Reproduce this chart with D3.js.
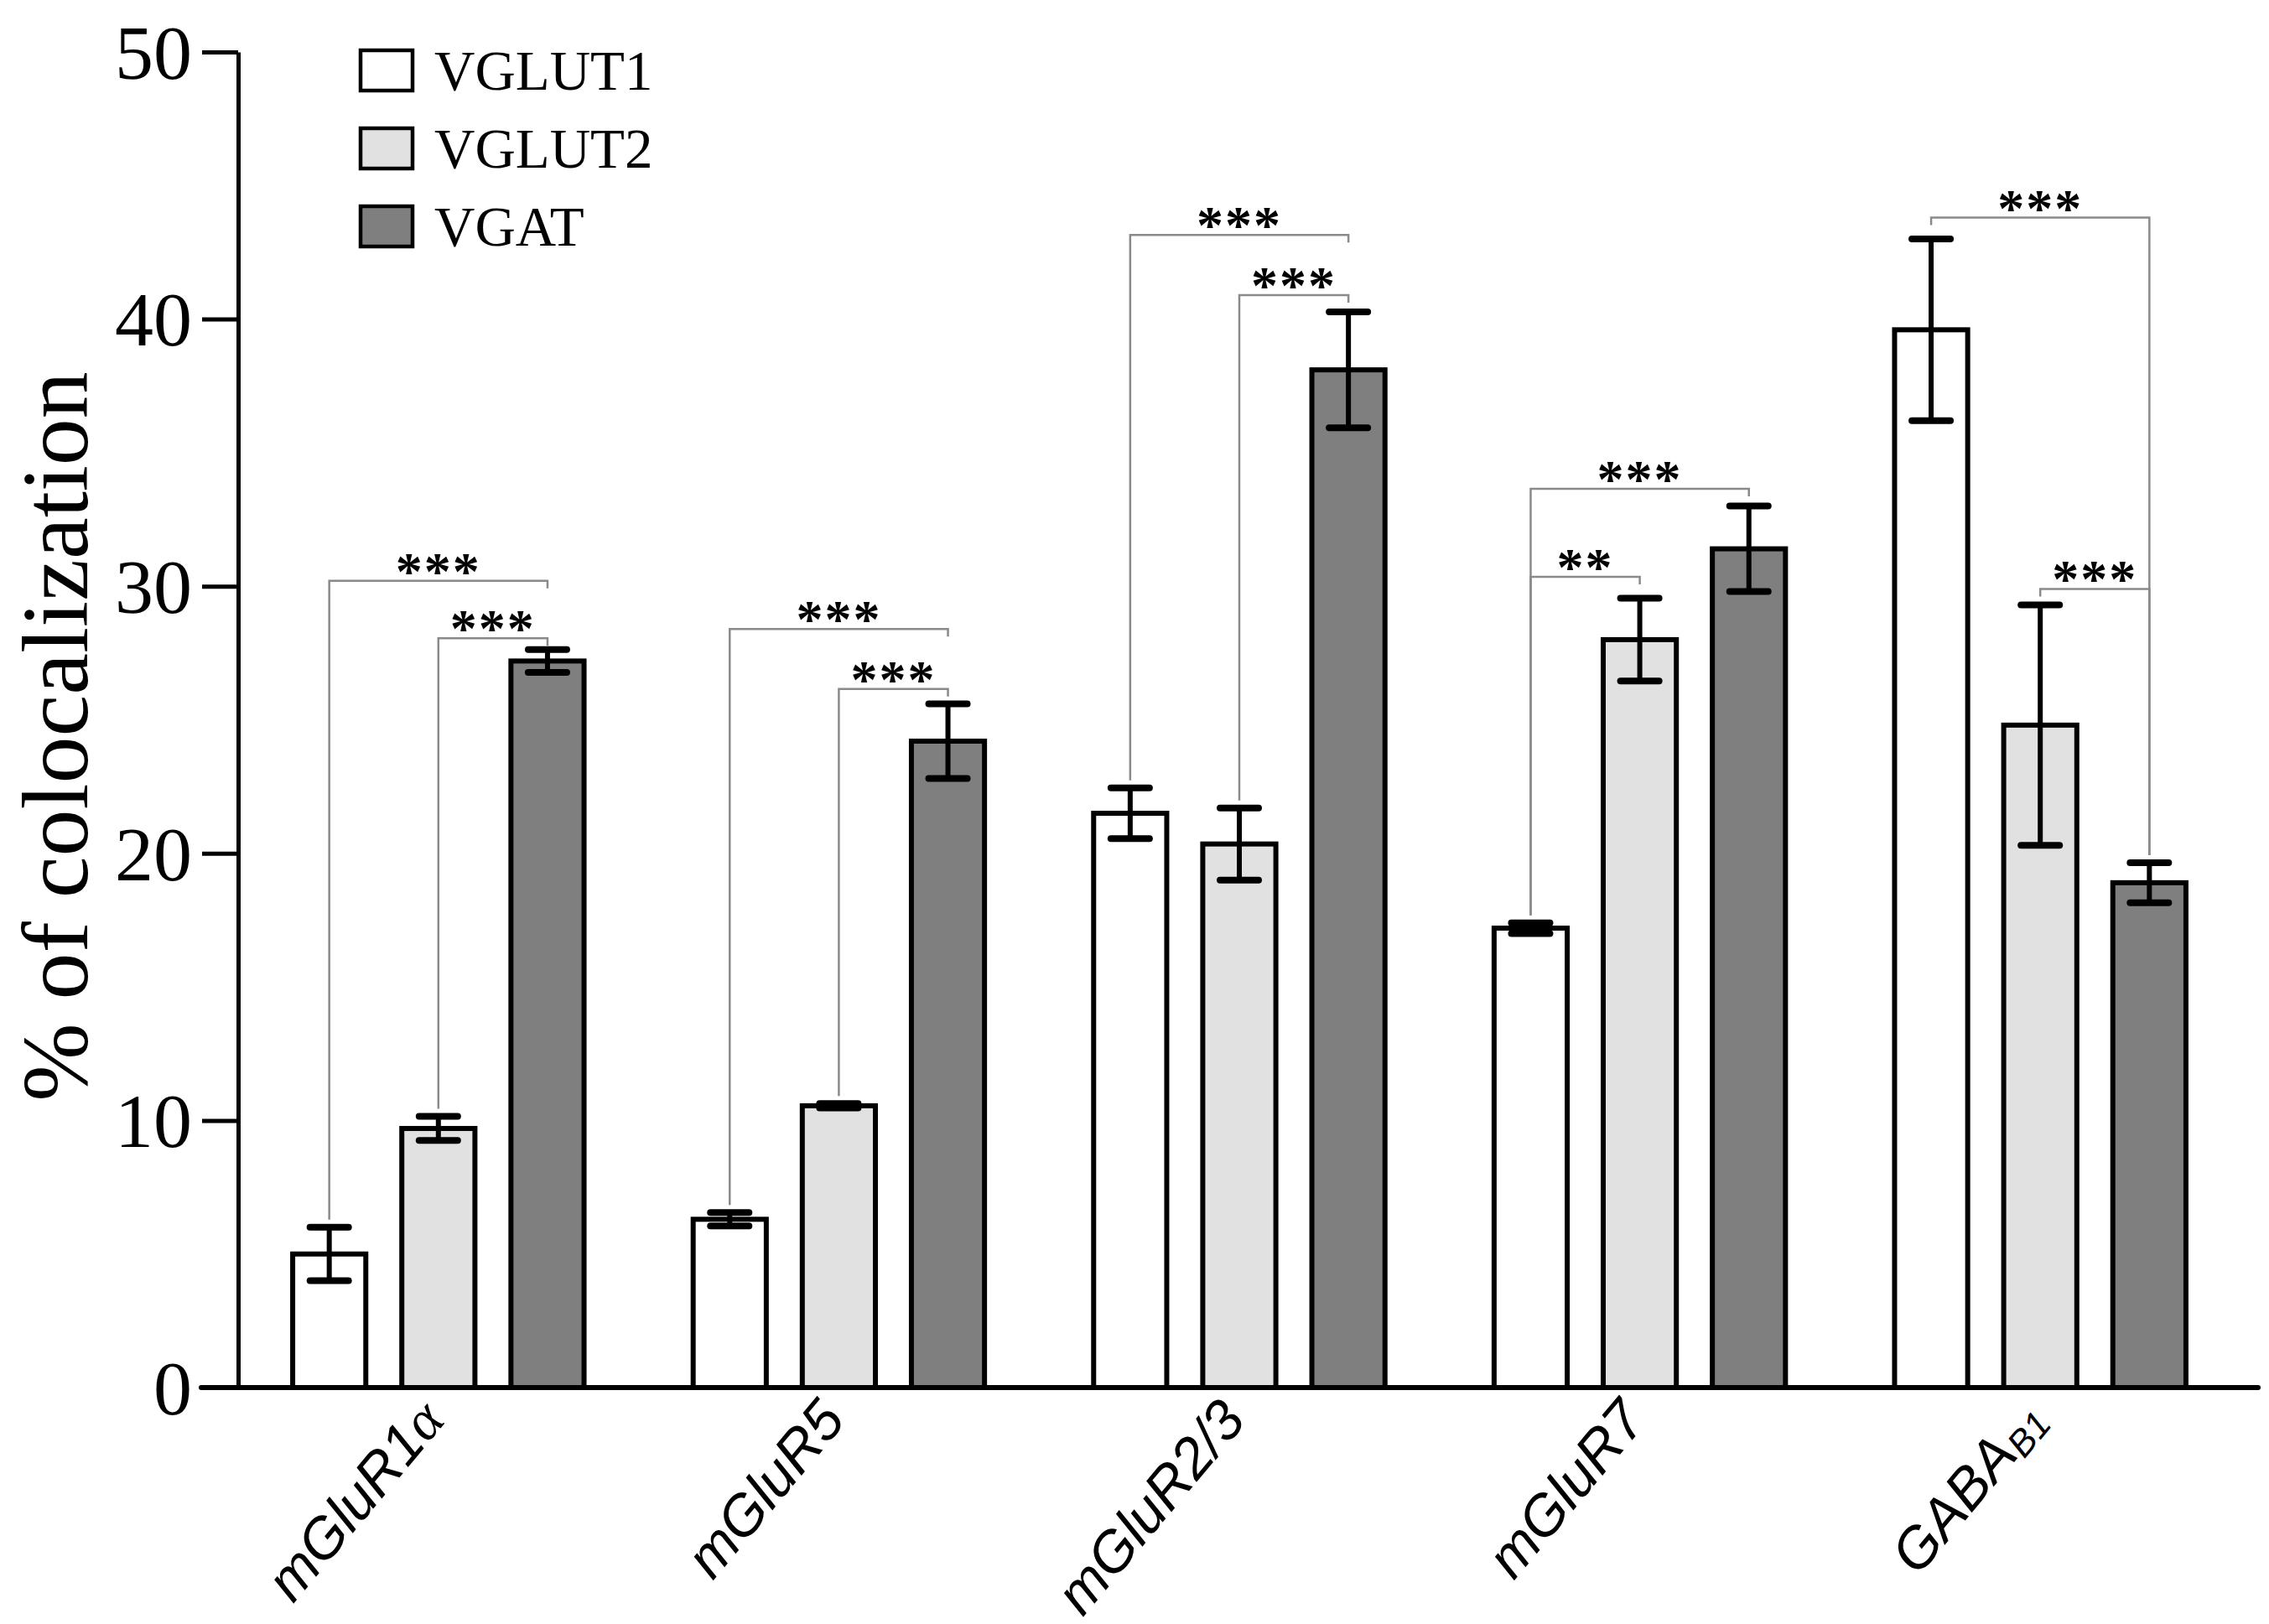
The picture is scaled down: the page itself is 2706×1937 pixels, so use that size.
<!DOCTYPE html>
<html>
<head>
<meta charset="utf-8">
<script src="https://cdn.jsdelivr.net/npm/d3@7"></script>
<style>
  body { margin: 0; background: #fff; }
</style>
</head>
<body>
<script>
// chart frame
const DIMS = {
    width: 2706,
    height: 1937,
    left: 284,
    right: 2672,
    top: 62,
    bottom: 1655
};

// data
const categories = ['mGluR1α', 'mGluR5', 'mGluR2/3', 'mGluR7', 'GABAB1'];
const labelMain = ['mGluR1', 'mGluR5', 'mGluR2/3', 'mGluR7', 'GABA'];
const labelGreek = ['α', '', '', '', ''];
const labelSub = ['', '', '', '', 'B1'];

const series = ['VGLUT1', 'VGLUT2', 'VGAT'];
const seriesColors = ['#ffffff', '#e1e1e1', '#7f7f7f'];

const vglut1 = [5.0, 6.3, 21.5, 17.2, 39.6];
const vglut1Err = [1.0, 0.25, 0.95, 0.2, 3.4];
const vglut2 = [9.7, 10.55, 20.35, 28.0, 24.8];
const vglut2Err = [0.45, 0.08, 1.35, 1.55, 4.5];
const vgat = [27.2, 24.2, 38.1, 31.4, 18.9];
const vgatErr = [0.43, 1.4, 2.17, 1.6, 0.75];

const yTicks = [0, 10, 20, 30, 40, 50];

// significance brackets: category, left bar, right bar, height, stars
const sigCategory = [0, 0, 1, 1, 2, 2, 3, 3, 4, 4];
const sigFrom = [0, 1, 0, 1, 0, 1, 0, 0, 0, 1];
const sigTo = [2, 2, 2, 2, 2, 2, 2, 1, 2, 2];
const sigLevel = [30.2, 28.05, 28.4, 26.15, 43.15, 40.9, 33.65, 30.35, 43.8, 29.9];
const sigStars = ['***', '***', '***', '***', '***', '***', '***', '**', '***', '***'];

const values = [vglut1, vglut2, vgat];
const errors = [vglut1Err, vglut2Err, vgatErr];

const rows = categories.flatMap((c, i) => series.map((s, j) => ({
    cat: c,
    ser: s,
    j: j,
    value: values[j][i],
    err: errors[j][i]
})));

const svg = d3.select('body').append('svg')
    .attr('width', DIMS.width)
    .attr('height', DIMS.height);

const x0 = d3.scaleBand()
    .domain(categories)
    .range([DIMS.left, DIMS.right]);

const x1 = d3.scaleBand()
    .domain(series)
    .range([0, x0.bandwidth()])
    .paddingInner(0.33)
    .paddingOuter(0.5);

const y = d3.scaleLinear()
    .domain([0, 50])
    .range([DIMS.bottom, DIMS.top]);

const barCenter = (cat, ser) => x0(cat) + x1(ser) + x1.bandwidth() / 2;

// bars
svg.append('g').selectAll('rect')
    .data(rows)
    .join('rect')
    .attr('x', d => x0(d.cat) + x1(d.ser))
    .attr('y', d => y(d.value))
    .attr('width', x1.bandwidth())
    .attr('height', d => y(0) - y(d.value))
    .attr('fill', d => seriesColors[d.j])
    .attr('stroke', '#000')
    .attr('stroke-width', 6);

// error bars
const capHalf = 23;
const err = svg.append('g').attr('stroke', '#000');
err.selectAll('line.stem')
    .data(rows)
    .join('line')
    .attr('class', 'stem')
    .attr('x1', d => barCenter(d.cat, d.ser))
    .attr('x2', d => barCenter(d.cat, d.ser))
    .attr('y1', d => y(d.value - d.err))
    .attr('y2', d => y(d.value + d.err))
    .attr('stroke-width', 6);
err.selectAll('line.cap')
    .data(rows.flatMap(d => [{ d: d, v: d.value + d.err }, { d: d, v: d.value - d.err }]))
    .join('line')
    .attr('class', 'cap')
    .attr('x1', e => barCenter(e.d.cat, e.d.ser) - capHalf)
    .attr('x2', e => barCenter(e.d.cat, e.d.ser) + capHalf)
    .attr('y1', e => y(e.v))
    .attr('y2', e => y(e.v))
    .attr('stroke-width', 8)
    .attr('stroke-linecap', 'round');

// significance brackets
const sig = sigCategory.map((ci, k) => {
    const cat = categories[ci];
    const a = sigFrom[k], b = sigTo[k];
    const topA = values[a][ci] + errors[a][ci];
    const topB = values[b][ci] + errors[b][ci];
    const yl = y(sigLevel[k]);
    const legA = topA <= topB ? y(topA) - 9 : yl + 9;
    const legB = topB < topA ? y(topB) - 9 : yl + 9;
    return {
        xa: barCenter(cat, series[a]),
        xb: barCenter(cat, series[b]),
        yl: yl, legA: legA, legB: legB,
        stars: sigStars[k]
    };
});

svg.append('g').selectAll('path')
    .data(sig)
    .join('path')
    .attr('d', s => `M${s.xa},${s.legA}L${s.xa},${s.yl}L${s.xb},${s.yl}L${s.xb},${s.legB}`)
    .attr('fill', 'none')
    .attr('stroke', '#8a8a8a')
    .attr('stroke-width', 2.5);

svg.append('g').selectAll('text')
    .data(sig)
    .join('text')
    .attr('x', s => (s.xa + s.xb) / 2)
    .attr('y', s => s.yl + 10)
    .attr('text-anchor', 'middle')
    .style('font-family', '"Liberation Serif", "Times New Roman", serif')
    .style('font-weight', 'bold')
    .style('font-size', '64px')
    .style('letter-spacing', '2px')
    .text(s => s.stars);

// y axis
const yAxis = d3.axisLeft(y)
    .tickValues(yTicks)
    .tickSize(43)
    .tickSizeOuter(0)
    .tickPadding(12)
    .tickFormat(d3.format('d'));

const yAxisGroup = svg.append('g')
    .attr('transform', `translate(${DIMS.left},0)`)
    .call(yAxis);
yAxisGroup.select('.domain').attr('stroke-width', 5);
yAxisGroup.selectAll('.tick line').attr('stroke-width', 5);
yAxisGroup.selectAll('.tick text')
    .attr('dy', '0.34em')
    .style('font-family', '"Liberation Serif", "Times New Roman", serif')
    .style('font-size', '92px');

// x axis baseline
svg.append('line')
    .attr('x1', DIMS.left - 44)
    .attr('x2', DIMS.right + 21)
    .attr('y1', y(0))
    .attr('y2', y(0))
    .attr('stroke', '#000')
    .attr('stroke-width', 6)
    .attr('stroke-linecap', 'round');

// category labels
const catLabels = svg.append('g').selectAll('text')
    .data(categories)
    .join('text')
    .attr('text-anchor', 'end')
    .attr('transform', c => `translate(${x0(c) + x0.bandwidth() / 2 + 10},${y(0) + 40}) rotate(-50)`)
    .style('font-family', '"Liberation Sans", Arial, sans-serif')
    .style('font-style', 'italic')
    .style('font-size', '68px');
catLabels.append('tspan').text((c, i) => labelMain[i]);
catLabels.append('tspan')
    .style('font-family', '"Liberation Serif", "Times New Roman", serif')
    .text((c, i) => labelGreek[i]);
catLabels.append('tspan')
    .attr('baseline-shift', '-15%')
    .style('font-size', '44px')
    .text((c, i) => labelSub[i]);

// y axis title
svg.append('text')
    .attr('transform', `translate(104,${(y(0) + y(50)) / 2 + 20}) rotate(-90)`)
    .attr('text-anchor', 'middle')
    .style('font-family', '"Liberation Serif", "Times New Roman", serif')
    .style('font-size', '112px')
    .text('% of colocalization');

// legend
const legend = svg.append('g')
    .attr('transform', 'translate(430,60)');
const legendRow = legend.selectAll('g')
    .data(series)
    .join('g')
    .attr('transform', (s, i) => `translate(0,${i * 93})`);
legendRow.append('rect')
    .attr('width', 62)
    .attr('height', 48)
    .attr('fill', (s, i) => seriesColors[i])
    .attr('stroke', '#000')
    .attr('stroke-width', 4.5);
legendRow.append('text')
    .attr('x', 88)
    .attr('y', 47)
    .style('font-family', '"Liberation Serif", "Times New Roman", serif')
    .style('font-size', '67px')
    .text(s => s);
</script>
</body>
</html>
